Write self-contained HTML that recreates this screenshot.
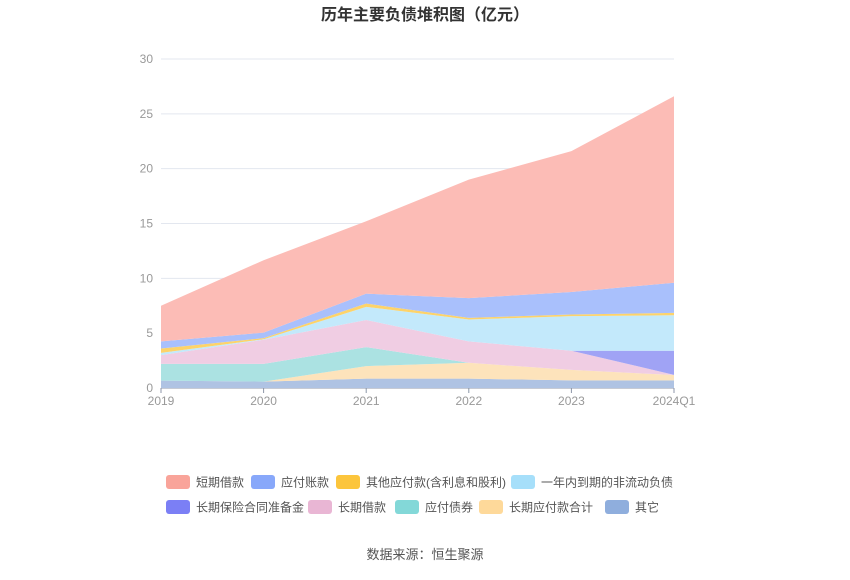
<!DOCTYPE html>
<html><head><meta charset="utf-8"><style>
body{margin:0;background:#fff;font-family:"Liberation Sans","Noto Sans CJK SC",sans-serif;}
</style></head><body>
<svg id="chart" width="850" height="575" xmlns="http://www.w3.org/2000/svg" style="font-family:'Liberation Sans','Noto Sans CJK SC',sans-serif">
<text x="425" y="20" text-anchor="middle" font-size="16" font-weight="bold" fill="#333">历年主要负债堆积图（亿元）</text>
<g id="grid"></g><g id="areas"></g><g id="axes"></g><g id="legend"></g>
<text x="425" y="559" text-anchor="middle" font-size="13" fill="#555">数据来源：恒生聚源</text>
</svg>
<script>
const categories=["2019","2020","2021","2022","2023","2024Q1"];
const yTicks=[0,5,10,15,20,25,30];
const seriesNames=["其它","长期应付款合计","应付债券","长期借款","长期保险合同准备金","一年内到期的非流动负债","其他应付款(含利息和股利)","应付账款","短期借款"];
const sOther=[0.67,0.58,0.85,0.85,0.7,0.7];
const sLongPay=[0,0,1.15,1.45,0.95,0.48];
const sBond=[1.53,1.62,1.73,0,0,0];
const sLongBorrow=[0.8,2.2,2.47,1.95,1.75,0.02];
const sInsurance=[0,0,0,0,0,2.2];
const sOneYear=[0.2,0.05,1.2,2.0,3.15,3.23];
const sOtherPay=[0.4,0.1,0.3,0.15,0.15,0.22];
const sAP=[0.65,0.5,0.9,1.8,2.05,2.75];
const sShort=[3.25,6.6,6.6,10.8,12.85,17.0];
const series=[sOther,sLongPay,sBond,sLongBorrow,sInsurance,sOneYear,sOtherPay,sAP,sShort];
const fills=["#afc3e3","#fde3bb","#abe2e2","#f0cde3","#a0a3f5","#c3e9fb","#fdd36a","#a9c0fc","#fcbcb6"];
const legendColors=["#8faedd","#fed99a","#83d8d8","#e9b6d4","#7b7ff5","#a6dffa","#fcc53c","#88a8fa","#f9a49a"];
const ns="http://www.w3.org/2000/svg";
const X0=161,X1=674,Y0=388,Y1=59,YMAX=30;
const xs=i=>X0+(X1-X0)*i/(categories.length-1);
const ys=v=>Y0-(Y0-Y1)*v/YMAX;
function mk(tag,attrs,parent){const e=document.createElementNS(ns,tag);for(const k in attrs)e.setAttribute(k,attrs[k]);parent.appendChild(e);return e;}
const grid=document.getElementById('grid'),axes=document.getElementById('axes'),areas=document.getElementById('areas'),legend=document.getElementById('legend');
yTicks.forEach(t=>{
  const l=mk('line',{x1:X0,x2:X1,y1:ys(t),y2:ys(t),stroke:t===0?'#8c96a8':'#e3e7ef','stroke-width':1},grid);
  
  
  const tx=mk('text',{x:X0-8,y:ys(t)+4,'text-anchor':'end','font-size':12,fill:'#999'},axes);
  tx.textContent=t;
  
  
});
categories.forEach((c,i)=>{
  const l=mk('line',{x1:xs(i),x2:xs(i),y1:Y0,y2:Y0+5,stroke:'#8c96a8'},axes);
  
  
  const tx=mk('text',{x:xs(i),y:Y0+17,'text-anchor':'middle','font-size':12,fill:'#999'},axes);
  tx.textContent=c;
  
  
});
let base=categories.map(()=>0);
series.forEach((s,k)=>{
  const top=base.map((b,i)=>b+s[i]);
  let d='M'+top.map((v,i)=>xs(i)+','+ys(v)).join(' L');
  for(let i=categories.length-1;i>=0;i--)d+=' L'+xs(i)+','+ys(base[i]);
  d+='Z';
  const p=mk('path',{d:d,fill:fills[k],stroke:'none'},areas);
  
  
  base=top;
});
const legendPos=[[166,482],[251,482],[336,482],[511,482],[166,507],[308,507],[395,507],[479,507],[605,507]];
const legendOrder=[8,7,6,5,4,3,2,1,0];
legendOrder.forEach((k,j)=>{
  const [lx,ly]=legendPos[j];
  const g=mk('g',{},legend);
  
  
  mk('rect',{x:lx,y:ly-7,width:24,height:14,rx:3,fill:legendColors[k]},g);
  const t=mk('text',{x:lx+30,y:ly+4.5,'font-size':12,fill:'#555'},g);
  t.textContent=seriesNames[k];
});
</script>
</body></html>
